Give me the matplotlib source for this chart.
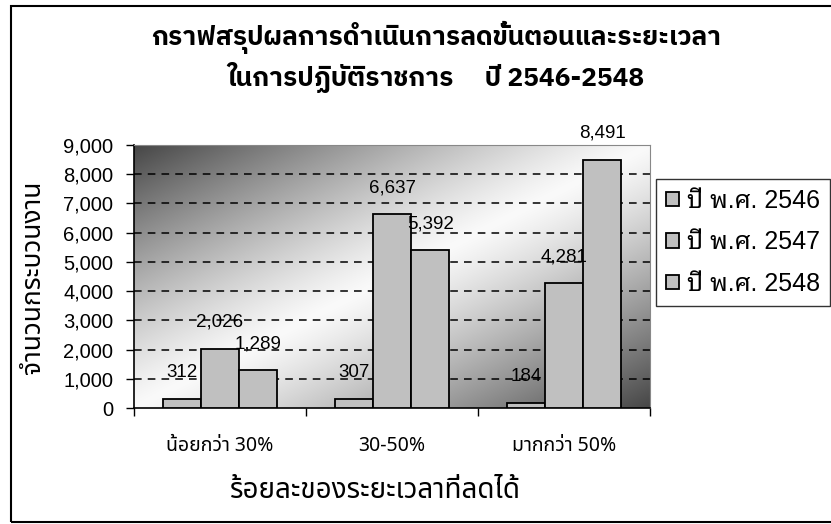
import numpy as np
import matplotlib
matplotlib.use("Agg")
import matplotlib.pyplot as plt
from matplotlib.patches import Rectangle
from matplotlib.ticker import FuncFormatter, FixedLocator

categories = ["น้อยกว่า 30%", "30-50%", "มากกว่า 50%"]
series_names = ["ปี พ.ศ. 2546", "ปี พ.ศ. 2547", "ปี พ.ศ. 2548"]
y2546 = [312, 307, 184]
y2547 = [2026, 6637, 4281]
y2548 = [1289, 5392, 8491]
title = "กราฟสรุปผลการดำเนินการลดขั้นตอนและระยะเวลา\nในการปฏิบัติราชการ     ปี 2546-2548"
xlabel = "ร้อยละของระยะเวลาที่ลดได้"
ylabel = "จำนวนกระบวนงาน"

thai = ["Noto Sans Thai", "DejaVu Sans"]
thai_bold = ["IBM Plex Sans Thai", "Noto Sans Thai", "DejaVu Sans"]
latin_thai = ["Liberation Sans", "Noto Sans Thai Looped", "DejaVu Sans"]

W, H = 831, 524
fig = plt.figure(figsize=(W / 100, H / 100), dpi=100)
ax = fig.add_axes([134 / W, 1 - 408 / H, (650 - 134) / W, (408 - 145) / H])

# diagonal two-way gradient in the plot area
gx, gy = np.meshgrid(np.linspace(0, 1, 400), np.linspace(1, 0, 300))
t = (gx + (1 - gy)) / 2
shade = 250 - 180 * np.abs(2 * t - 1) ** 1.2
img = np.dstack([shade, shade, shade]) / 255
ax.imshow(img, extent=[0, 1, 0, 1], transform=ax.transAxes, aspect="auto", zorder=0)

x = np.arange(len(categories))
w = 0.222
bar_fill = "#c0c0c0"
for i, vals in enumerate([y2546, y2547, y2548]):
    bars = ax.bar(x + (i - 1) * w, vals, w, color=bar_fill, edgecolor="black",
                  linewidth=1.3, zorder=3, label=series_names[i])
    for b, v in zip(bars, vals):
        ax.annotate(f"{v:,}", (b.get_x() + b.get_width() / 2, v),
                    xytext=(0, 19), textcoords="offset points",
                    ha="center", va="center", fontsize=13.5,
                    family="Liberation Sans", zorder=5)

ax.set_xlim(-0.5, 2.5)
ax.set_ylim(0, 9000)
ax.set_yticks(np.arange(0, 9001, 1000))
ax.yaxis.set_major_formatter(FuncFormatter(lambda v, p: f"{int(v):,}"))
for lbl in ax.get_yticklabels():
    lbl.set_family("Liberation Sans")
ax.tick_params(axis="y", labelsize=14.5, length=6, width=1, pad=9)

ax.set_xticks(x)
ax.set_xticklabels(categories, family=thai, fontsize=14)
ax.tick_params(axis="x", length=0, pad=20)
ax.xaxis.set_minor_locator(FixedLocator([-0.5, 0.5, 1.5, 2.5]))
ax.tick_params(axis="x", which="minor", length=6, width=1)

for yv in range(1000, 9000, 1000):
    ax.axhline(yv, color="black", lw=1.1, ls=(0, (5, 4)), zorder=1)

for s in ["top", "right"]:
    ax.spines[s].set_color("#888888")
    ax.spines[s].set_linewidth(0.8)
for s in ["left", "bottom"]:
    ax.spines[s].set_color("black")
    ax.spines[s].set_linewidth(1.2)

fig.text(436 / W, 1 - 57 / H, title, ha="center", va="center", fontsize=19,
         fontweight="bold", family=thai_bold, linespacing=1.3)
fig.text(375 / W, 1 - 491 / H, xlabel, ha="center", va="center", fontsize=20,
         family=thai)
fig.text(33 / W, 1 - 277 / H, ylabel, ha="center", va="center", fontsize=19,
         rotation=90, family=thai)

leg = fig.legend(loc="upper left", bbox_to_anchor=(656 / W, 1 - 179 / H),
                 frameon=True, fancybox=False, edgecolor="black",
                 prop={"family": latin_thai, "size": 18},
                 handlelength=0.5, handleheight=0.5, handletextpad=0.35,
                 labelspacing=0.7, borderpad=0.4, borderaxespad=0)
leg.get_frame().set_linewidth(1.0)

fig.patches.append(Rectangle((11 / W, 1 - 522 / H), 1, (522 - 6) / H,
                             transform=fig.transFigure, fill=False,
                             edgecolor="black", lw=1.5))

fig.savefig("out.png", dpi=100)
